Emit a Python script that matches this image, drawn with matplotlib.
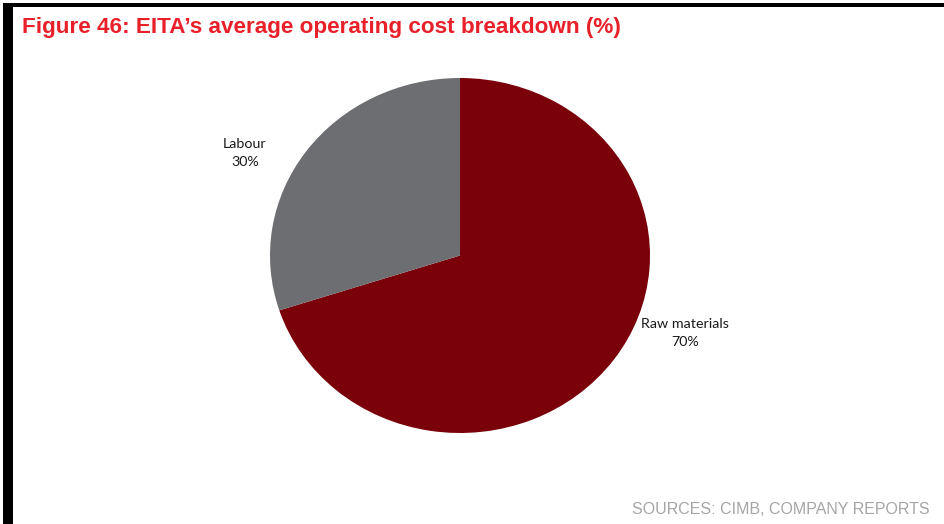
import matplotlib
matplotlib.use("Agg")
import matplotlib.pyplot as plt
from matplotlib.patches import Rectangle

# Cost components and their shares (%)
categories = ["Raw materials", "Labour"]
shares = [70, 30]
colors = ["#7A0009", "#6D6E71"]

W, H = 945, 524
fig = plt.figure(figsize=(W / 100, H / 100), dpi=100)
fig.patch.set_facecolor("white")


def px(x, y):
    """Pixel position (from top-left) to figure fraction."""
    return x / W, 1 - y / H


# Frame: top rule and left bar
fig.add_artist(Rectangle(px(3, 6.5), 1 - 3 / W, 3 / H, transform=fig.transFigure,
                         color="black", lw=0))
fig.add_artist(Rectangle(px(3, H), 10 / W, (H - 4) / H, transform=fig.transFigure,
                         color="black", lw=0))

# Title
fig.text(*px(22, 28), "Figure 46: EITA\u2019s average operating cost breakdown (%)",
         family="Liberation Sans", fontweight="bold", fontsize=16.2,
         color="#E8202A", va="center", ha="left")

# Pie
left, top, pw, ph = 270, 78, 380, 355
ax = fig.add_axes([left / W, 1 - (top + ph) / H, pw / W, ph / H])
ax.pie(shares, colors=colors, startangle=90, counterclock=False,
       wedgeprops=dict(linewidth=0))
ax.set_aspect("auto")
ax.set_xlim(-1, 1)
ax.set_ylim(-1, 1)
ax.axis("off")

# Slice labels
label_pos = {"Labour": (245, 153), "Raw materials": (685, 333)}
for cat, val in zip(categories, shares):
    x, y = label_pos[cat]
    fig.text(*px(x, y), f"{cat}\n{val}%", family="Lato", fontsize=10.3,
             color="#1A1A1A", ha="center", va="center", linespacing=1.5)

# Source note
fig.text(*px(930, 510), "SOURCES: CIMB, COMPANY REPORTS", family="Liberation Sans",
         fontsize=11.5, color="#A6A6A6", ha="right", va="center")

fig.savefig("out.png", dpi=100)
